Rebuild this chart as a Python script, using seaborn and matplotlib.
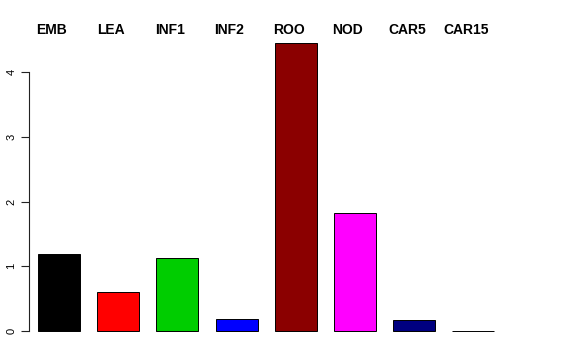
import matplotlib
matplotlib.use("Agg")
import matplotlib.pyplot as plt
import matplotlib.transforms as mtransforms
import seaborn as sns
import pandas as pd

categories = ["EMB", "LEA", "INF1", "INF2", "ROO", "NOD", "CAR5", "CAR15"]
values = [1.19, 0.60, 1.13, 0.19, 4.45, 1.82, 0.17, 0.005]
colors = ["#000000", "#FF0000", "#00CD00", "#0000FF", "#8B0000", "#FF00FF", "#000080", "#BEBEBE"]
yticks = [0, 1, 2, 3, 4]

sns.set_style("white")
plt.rcParams["font.family"] = ["Liberation Sans", "DejaVu Sans"]
plt.rcParams["text.color"] = "black"
plt.rcParams["ytick.color"] = "black"
plt.rcParams["ytick.labelcolor"] = "black"

W, H = 576, 360
fig = plt.figure(figsize=(W / 100, H / 100), dpi=100)
ax_l, ax_r, ax_t, ax_b = 29, 560, 20, 345
ax = fig.add_axes([ax_l / W, 1 - ax_b / H, (ax_r - ax_l) / W, (ax_b - ax_t) / H])

df = pd.DataFrame({"cat": categories, "val": values})
sns.barplot(data=df, x="cat", y="val", hue="cat", palette=colors, legend=False,
            width=0.71, edgecolor="black", linewidth=0.7, ax=ax, saturation=1)

# axis geometry
px_per_unit = 64.75
y0_px = 331
ax.set_ylim(-(ax_b - y0_px) / px_per_unit, (y0_px - ax_t) / px_per_unit)
c0, step = 59, 59.2
ax.set_xlim((ax_l - c0) / step, (ax_r - c0) / step)

for s in ["top", "right", "bottom"]:
    ax.spines[s].set_visible(False)
ax.spines["left"].set_bounds(0, 4)
ax.spines["left"].set_linewidth(0.8)
ax.spines["left"].set_color("#222222")
ax.set_yticks(yticks)
ax.set_yticklabels([str(t) for t in yticks], rotation=90, va="center", fontsize=8, color="black")
ax.tick_params(axis="y", direction="out", length=6, width=0.8, color="#222222", pad=3, left=True)
ax.set_xticks([])
ax.set_xlabel("")
ax.set_ylabel("")

trans = mtransforms.blended_transform_factory(ax.transData, fig.transFigure)
for i, c in enumerate(categories):
    ax.text(i - 0.12, 1 - 30 / H, c, transform=trans, ha="center", va="center",
            fontsize=10, fontweight="bold", color="black")

fig.savefig("out.png", dpi=100)
